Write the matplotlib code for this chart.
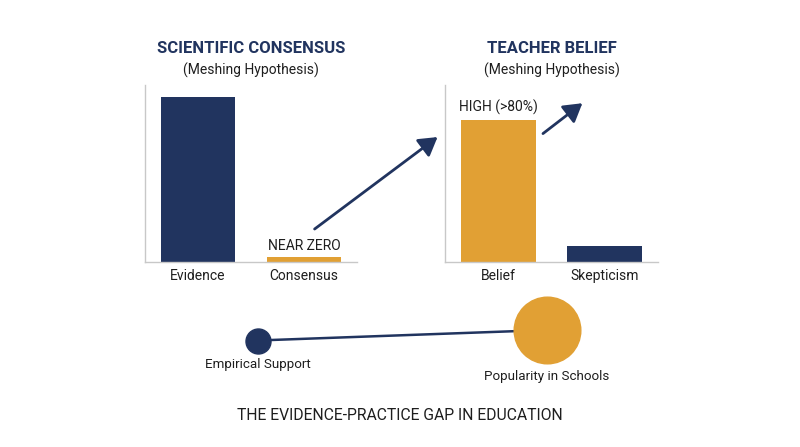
import matplotlib
matplotlib.use("Agg")
import matplotlib.pyplot as plt
from matplotlib.patches import ConnectionPatch

plt.rcParams['font.family'] = ['Roboto', 'DejaVu Sans']

NAVY = '#21345f'
ORANGE = '#e1a034'
TEXT = '#1e1e1e'
SPINE = '#c8c8c8'

# ---- data ----
sci_categories = ['Evidence', 'Consensus']
sci_values = [95, 3]
teacher_categories = ['Belief', 'Skepticism']
teacher_values = [82, 9]
sci_title = 'SCIENTIFIC CONSENSUS'
teacher_title = 'TEACHER BELIEF'
subtitle = '(Meshing Hypothesis)'
sci_note = 'NEAR ZERO'
teacher_note = 'HIGH (>80%)'
gap_labels = ['Empirical Support', 'Popularity in Schools']
gap_levels = [0, 1]
gap_sizes = [18, 48]
bottom_title = 'THE EVIDENCE-PRACTICE GAP IN EDUCATION'

W, H = 800, 447
fig = plt.figure(figsize=(8, 4.47), dpi=100)


def px_axes(x0, y_top, x1, y_bot):
    return fig.add_axes([x0 / W, (H - y_bot) / H, (x1 - x0) / W, (y_bot - y_top) / H])


def style(ax):
    for s in ['top', 'right']:
        ax.spines[s].set_visible(False)
    for s in ['left', 'bottom']:
        ax.spines[s].set_color(SPINE)
        ax.spines[s].set_linewidth(1.0)
    ax.set_yticks([])
    ax.tick_params(axis='x', length=0, pad=5, labelsize=10, labelcolor=TEXT)
    ax.set_xlim(-0.5, 1.5)
    ax.set_ylim(0, 102)


ax1 = px_axes(145, 85, 357, 262)
ax2 = px_axes(445, 85, 658, 262)
style(ax1)
style(ax2)

ax1.bar(range(len(sci_categories)), sci_values, width=0.7, color=[NAVY, ORANGE])
ax1.set_xticks(range(len(sci_categories)))
ax1.set_xticklabels(sci_categories)

ax2.bar(range(len(teacher_categories)), teacher_values, width=0.7, color=[ORANGE, NAVY])
ax2.set_xticks(range(len(teacher_categories)))
ax2.set_xticklabels(teacher_categories)

for ax, title in [(ax1, sci_title), (ax2, teacher_title)]:
    ax.text(0.5, 1.209, title, transform=ax.transAxes, ha='center', va='center',
            fontsize=12, fontweight='bold', color=NAVY)
    ax.text(0.5, 1.085, subtitle, transform=ax.transAxes, ha='center', va='center',
            fontsize=10, color=TEXT)

ax1.annotate(sci_note, (1, sci_values[1]), xytext=(0, 3), textcoords='offset points',
             ha='center', va='bottom', fontsize=10, color=TEXT)
ax2.annotate(teacher_note, (0, teacher_values[0]), xytext=(0, 3.5), textcoords='offset points',
             ha='center', va='bottom', fontsize=10, color=TEXT)

# arrows
big = ConnectionPatch(xyA=(1.10, 19), coordsA=ax1.transData,
                      xyB=(-0.57, 72), coordsB=ax2.transData,
                      arrowstyle='-|>,head_length=0.5,head_width=0.3', mutation_scale=22,
                      color=NAVY, lw=2.0)
fig.add_artist(big)
small = ConnectionPatch(xyA=(0.42, 74), coordsA=ax2.transData,
                        xyB=(0.79, 91.5), coordsB=ax2.transData,
                        arrowstyle='-|>,head_length=0.5,head_width=0.3', mutation_scale=22,
                        color=NAVY, lw=2.0)
fig.add_artist(small)

# bottom gap graphic
ax3 = px_axes(257.5, 330, 547, 340.5)
ax3.axis('off')
ax3.set_xlim(0, 1)
ax3.set_ylim(0, 1)
xs = list(range(len(gap_labels)))
ax3.plot(xs, gap_levels, color=NAVY, lw=1.8, zorder=1, clip_on=False)
for x, y, s, c in zip(xs, gap_levels, gap_sizes, [NAVY, ORANGE]):
    ax3.plot([x], [y], 'o', ms=s, color=c, mec=c, zorder=2, clip_on=False)
ax3.annotate(gap_labels[0], (xs[0], gap_levels[0]), xytext=(0, -17.5), textcoords='offset points',
             ha='center', va='center', fontsize=9.6, color=TEXT)
ax3.annotate(gap_labels[1], (xs[1], gap_levels[1]), xytext=(0, -33.5), textcoords='offset points',
             ha='center', va='center', fontsize=9.6, color=TEXT)

fig.text(0.5, (H - 416) / H, bottom_title, ha='center', va='center', fontsize=11.3, color=TEXT)

fig.savefig('out.png', dpi=100, facecolor='white')
